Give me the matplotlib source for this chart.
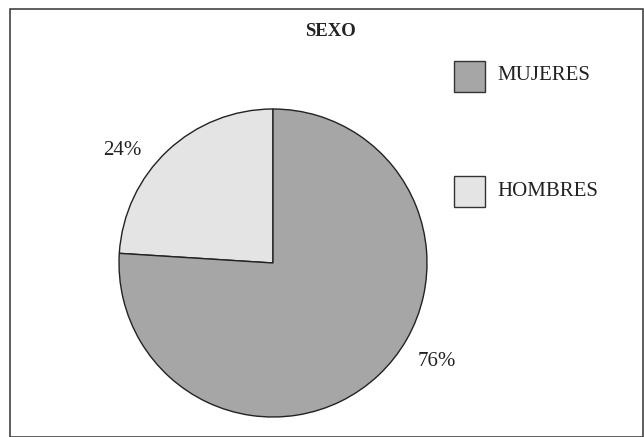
import matplotlib
matplotlib.use('Agg')
import matplotlib.pyplot as plt
from matplotlib.patches import Rectangle

plt.rcParams['font.family'] = ['Liberation Serif', 'DejaVu Serif']

# data
labels = ['HOMBRES', 'MUJERES']
values = [24, 76]
colors = ['#e4e4e4', '#a6a6a6']
pct_text = ['24%', '76%']

W, H = 644, 437
fig = plt.figure(figsize=(W / 100, H / 100), dpi=100)

# frame round the chart (scanned page, right/bottom partly cut)
fig.patches.append(Rectangle((10 / W, 0.0), (633 / W), 1 - 9 / H,
                             transform=fig.transFigure, fill=False,
                             edgecolor='#333333', lw=1.1))

cx, cy, r = 273, 263, 154
ax = fig.add_axes([(cx - r) / W, (H - cy - r) / H, 2 * r / W, 2 * r / H])
wedges, _ = ax.pie(values, colors=colors, startangle=90, counterclock=True,
                   radius=1, wedgeprops=dict(edgecolor='#222222', linewidth=1.0))
ax.set_xlim(-1, 1)
ax.set_ylim(-1, 1)
ax.set_aspect('equal')
ax.axis('off')

ax.text(-0.98, 0.73, pct_text[0], ha='center', va='center', fontsize=15,
        color='#222222', clip_on=False)
ax.text(1.065, -0.64, pct_text[1], ha='center', va='center', fontsize=15,
        color='#222222', clip_on=False)

fig.text(330 / W, 1 - 32 / H, 'SEXO', ha='center', va='center',
         fontsize=13.5, fontweight='bold', color='#222222')

# legend drawn by hand: MUJERES on top, HOMBRES below
box = 31
rows_y = [76, 191]
for (lab, col), y in zip(list(zip(labels, colors))[::-1], rows_y):
    fig.patches.append(Rectangle((454 / W, 1 - (y + box / 2) / H), box / W, box / H,
                                 transform=fig.transFigure, facecolor=col,
                                 edgecolor='#333333', lw=1.0))
    fig.text(497 / W, 1 - y / H, lab, ha='left', va='center', fontsize=15,
             color='#222222')

fig.savefig('out.png', dpi=100, facecolor='white')
